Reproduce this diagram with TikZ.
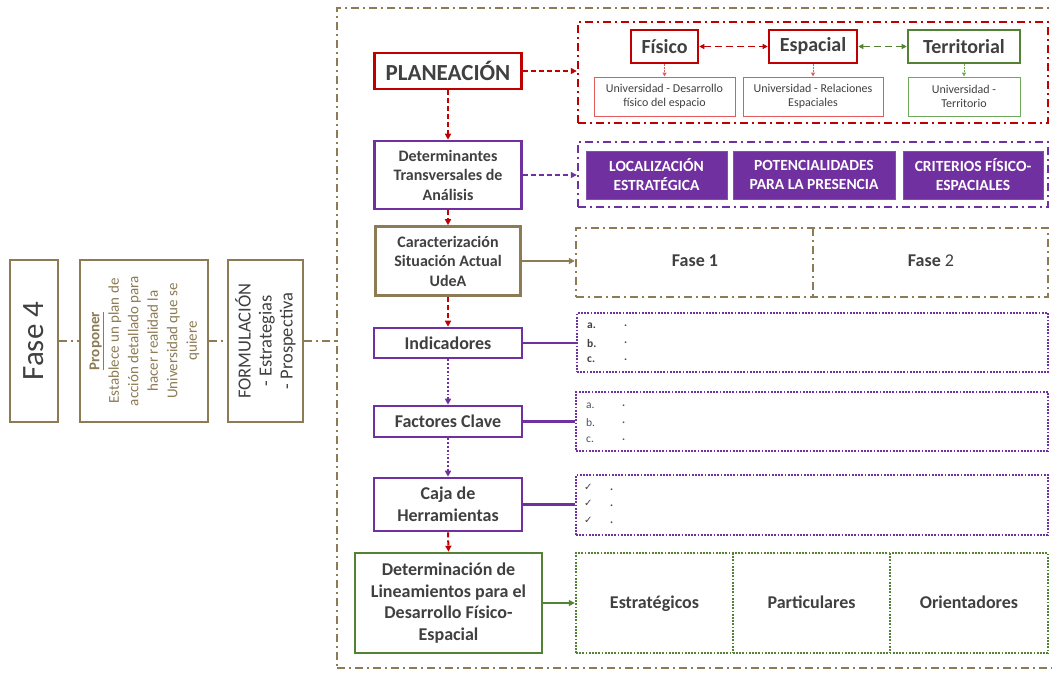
\documentclass[tikz,border=0pt]{standalone}
\usepackage{fontspec}
\setmainfont{Carlito}
\newfontfamily\symfont{DejaVu Sans}
\usetikzlibrary{arrows.meta}

\definecolor{tan}{RGB}{140,123,84}
\definecolor{dred}{RGB}{192,0,0}
\definecolor{lred}{RGB}{226,90,90}
\definecolor{purp}{RGB}{112,48,160}
\definecolor{dgreen}{RGB}{84,130,53}
\definecolor{lgreen}{RGB}{112,168,90}
\definecolor{txt}{RGB}{64,64,64}
\definecolor{txtb}{RGB}{68,84,106}

\tikzset{
  bx/.style={draw, line width=2.6pt, fill=white, inner sep=0pt, text=txt, align=center},
  thinbx/.style={draw, line width=1pt, fill=white, inner sep=0pt, text=txt, align=center,
                 font=\fontsize{12}{14}\selectfont},
  ddpat/.style={line width=2.4pt, dash pattern=on 8pt off 4pt on 2pt off 4pt},
  ddframe/.style={draw, ddpat, inner sep=0pt},
  dotframe/.style={draw, line width=2.4pt, dash pattern=on 1.8pt off 1.4pt, inner sep=0pt},
  fillbx/.style={draw=purp!85!white, line width=0.8pt, fill=purp, inner sep=0pt, text=white,
                 align=center, font=\fontsize{15.5}{19}\bfseries\selectfont},
  arr/.style={-{Triangle[length=6pt,width=6pt]}},
  arrs/.style={-{Triangle[length=4pt,width=4pt]}},
  arr2/.style={{Triangle[length=5pt,width=5pt]}-{Triangle[length=5pt,width=5pt]}},
  dashcon/.style={line width=2pt, dash pattern=on 5pt off 3pt},
  dotcon/.style={line width=2.2pt, dash pattern=on 1.8pt off 2pt},
  item/.style={inner sep=0pt, anchor=west, text=txt, font=\fontsize{11.5}{13}\bfseries\selectfont},
  lab/.style={inner sep=0pt, text=txt, text height=13pt, text depth=4pt,
              font=\fontsize{18}{21.6}\bfseries\selectfont},
}

\begin{document}
\begin{tikzpicture}[x=1pt, y=-1pt]
\useasboundingbox (0,0) rectangle (1052,673);
\clip (0,0) rectangle (1052,673);
\fill[white] (0,0) rectangle (1052,673);

% ---------- outer container ----------
\node[ddframe, draw=tan, minimum width=743, minimum height=660] (udea) at (708.5,338) {};

% ---------- phase column on the left ----------
\node[bx, draw=tan, minimum width=48, minimum height=162] (f4) at (34,341) {};
\node[rotate=90, inner sep=0pt, text=txt, font=\fontsize{31}{36}\selectfont] (f4t) at (f4.center) {Fase 4};

\node[bx, draw=tan, minimum width=128, minimum height=162] (prop) at (144,341) {};
\node[rotate=90, inner sep=0pt, text=tan, align=center, font=\fontsize{15}{19.5}\selectfont] (propt) at (144.5,341)
  {\underline{\textbf{Proponer}}\\Establece un plan de\\acción detallado para\\hacer realidad la\\Universidad que se\\quiere};

\node[bx, draw=tan, minimum width=75, minimum height=162] (form) at (265.5,341) {};
\node[rotate=90, inner sep=0pt, text=txt, align=center, font=\fontsize{18.5}{21}\selectfont] (formt) at (form.center)
  {FORMULACIÓN\\- Estrategias\\- Prospectiva};

\draw[tan, ddpat] (f4.east) -- (prop.west);
\draw[tan, ddpat] (prop.east) -- (form.west);
\draw[tan, ddpat] (form.east) -- (form.east -| udea.west);

% ---------- central process column ----------
\node[bx, draw=dred, minimum width=147, minimum height=36, font=\fontsize{23}{27}\bfseries\selectfont] (plan) at (448,71) {PLANEACIÓN};
\node[bx, draw=purp, minimum width=147, minimum height=68, font=\fontsize{16}{19.5}\bfseries\selectfont] (det) at (448,175)
  {Determinantes\\Transversales de\\Análisis};
\node[bx, draw=tan, minimum width=145, minimum height=69, font=\fontsize{16}{19.5}\bfseries\selectfont] (car) at (448,261)
  {Caracterización\\Situación Actual\\UdeA};
\node[bx, draw=purp, minimum width=148, minimum height=30, font=\fontsize{18}{21.6}\bfseries\selectfont] (ind) at (448,343) {Indicadores};
\node[bx, draw=purp, minimum width=148, minimum height=31, font=\fontsize{18}{21.6}\bfseries\selectfont] (fac) at (448,421.5) {Factores Clave};
\node[bx, draw=purp, minimum width=148, minimum height=53, font=\fontsize{18}{21.6}\bfseries\selectfont] (caja) at (448,504.5) {Caja de\\Herramientas};
\node[bx, draw=dgreen, minimum width=187, minimum height=100, font=\fontsize{18}{21.6}\bfseries\selectfont] (lin) at (448.5,603)
  {Determinación de\\Lineamientos para el\\Desarrollo Físico-\\Espacial};

% ---------- planning dimensions ----------
\node[ddframe, draw=dred, minimum width=470, minimum height=101] (redfr) at (813,72.5) {};
\node[bx, draw=dred, minimum width=67, minimum height=33, font=\fontsize{20}{24}\bfseries\selectfont] (fis) at (664.5,46.5) {Físico};
\node[bx, draw=dred, minimum width=88, minimum height=33, font=\fontsize{20}{24}\bfseries\selectfont] (esp) at (813,46.5) {Espacial};
\node[bx, draw=dgreen, minimum width=112, minimum height=33, font=\fontsize{20}{24}\bfseries\selectfont] (ter) at (964,46.5) {Territorial};
\node[thinbx, draw=lred, minimum width=141, minimum height=39] (ua) at (664.5,96.5) {Universidad - Desarrollo\\físico del espacio};
\node[thinbx, draw=lred, minimum width=140, minimum height=39] (ub) at (813,96.5) {Universidad - Relaciones\\Espaciales};
\node[thinbx, draw=lgreen, minimum width=112, minimum height=39] (uc) at (964,96.5) {Universidad -\\Territorio};

\draw[dred, line width=1.5pt, dash pattern=on 7pt off 4pt, arr2] (fis.east) -- (esp.west);
\draw[dgreen, line width=1.5pt, dash pattern=on 7pt off 4pt, arr2] (esp.east) -- (ter.west);
\draw[lred, line width=1pt, dash pattern=on 1.5pt off 1.5pt, arrs] (fis.south) -- (ua.north);
\draw[lred, line width=1pt, dash pattern=on 1.5pt off 1.5pt, arrs] (esp.south) -- (ub.north);
\draw[lgreen, line width=1pt, dash pattern=on 1.5pt off 1.5pt, arrs] (ter.south) -- (uc.north);

% ---------- cross-cutting determinants ----------
\node[ddframe, draw=purp, minimum width=470, minimum height=65] (purfr) at (813,174.5) {};
\node[fillbx, minimum width=141, minimum height=48] (loc) at (656.5,175) {LOCALIZACIÓN\\ESTRATÉGICA};
\node[fillbx, minimum width=162, minimum height=48] (pot) at (814,175) {POTENCIALIDADES\\PARA LA PRESENCIA};
\node[fillbx, minimum width=140, minimum height=48] (cri) at (973,175) {CRITERIOS FÍSICO-\\ESPACIALES};

% ---------- current situation phases ----------
\node[ddframe, draw=tan, minimum width=472, minimum height=69] (fasefr) at (812,262.5) {};
\draw[tan, ddpat] (813,228) -- (813,297);
\node[lab] (fase1) at (695,262) {Fase 1};
\node[lab] (fase2) at (931,262) {Fase \mdseries 2};

% ---------- indicator and key-factor lists ----------
\node[dotframe, draw=purp, minimum width=471, minimum height=59] (indfr) at (812.5,342.5) {};
\node[item] (ia) at (587,326) {a.};
\node[item] (ib) at (587,343) {b.};
\node[item] (ic) at (587,360) {c.};
\node[item] (iad) at (624,326) {.};
\node[item] (ibd) at (624,343) {.};
\node[item] (icd) at (624,360) {.};

\node[dotframe, draw=purp, minimum width=472, minimum height=59] (facfr) at (812,421.5) {};
\node[item, text=txtb, font=\fontsize{11.5}{13}\selectfont] (fa) at (586,406) {a.};
\node[item, text=txtb, font=\fontsize{11.5}{13}\selectfont] (fb) at (586,423) {b.};
\node[item, text=txtb, font=\fontsize{11.5}{13}\selectfont] (fc) at (586,440) {c.};
\node[item, text=txtb] (fad) at (622,406) {.};
\node[item, text=txtb] (fbd) at (622,423) {.};
\node[item, text=txtb] (fcd) at (622,440) {.};

\node[dotframe, draw=purp, minimum width=472, minimum height=60] (cajafr) at (812,505) {};
\node[item, font=\symfont\fontsize{10}{12}\selectfont] (ca) at (584,487) {✓};
\node[item, font=\symfont\fontsize{10}{12}\selectfont] (cb) at (584,503) {✓};
\node[item, font=\symfont\fontsize{10}{12}\selectfont] (cc) at (584,520) {✓};
\node[item] (cad) at (610,490) {.};
\node[item] (cbd) at (610,506) {.};
\node[item] (ccd) at (610,523) {.};

% ---------- guideline types ----------
\node[dotframe, draw=dgreen, minimum width=472, minimum height=100] (linfr) at (812,603) {};
\draw[dgreen, line width=2.4pt, dash pattern=on 1.8pt off 1.4pt] (733,553) -- (733,653);
\draw[dgreen, line width=2.4pt, dash pattern=on 1.8pt off 1.4pt] (890,553) -- (890,653);
\node[lab] (estr) at (654.5,604) {Estratégicos};
\node[lab] (part) at (811.5,604) {Particulares};
\node[lab] (orie) at (969,604) {Orientadores};

% ---------- connectors ----------
\draw[dred, dashcon, arr] (plan.east) -- (plan.east -| redfr.west);
\draw[dred, dashcon, arr] (plan.south) -- (det.north);
\draw[purp, dashcon, arr] (det.east) -- (det.east -| purfr.west);
\draw[dred, dashcon, arr] (det.south) -- (car.north);
\draw[tan, line width=2.2pt, arr] (car.east) -- (car.east -| fasefr.west);
\draw[dred, dashcon, arr] (car.south) -- (ind.north);
\draw[purp, dotcon, arr] (ind.south) -- (fac.north);
\draw[purp, dotcon, arr] (fac.south) -- (caja.north);
\draw[dred, dashcon, arr] (caja.south) -- (lin.north);
\draw[purp, line width=2.2pt] (ind.east) -- (ind.east -| indfr.west);
\draw[purp, line width=2.2pt] (fac.east) -- (fac.east -| facfr.west);
\draw[purp, line width=2.2pt] (caja.east) -- (caja.east -| cajafr.west);
\draw[dgreen, line width=2.2pt, arr] (lin.east) -- (lin.east -| linfr.west);
\end{tikzpicture}
\end{document}
